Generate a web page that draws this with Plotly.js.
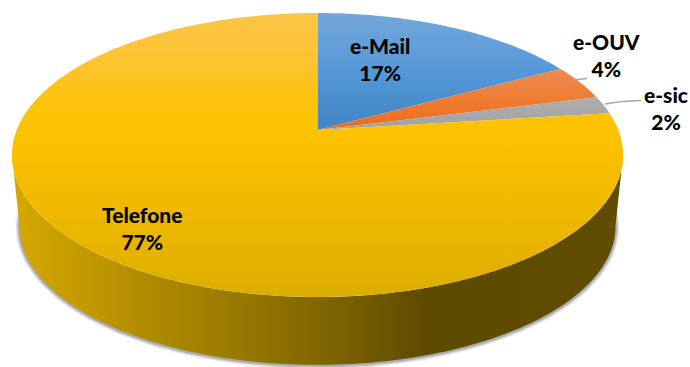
<!DOCTYPE html>
<html>
<head>
<meta charset="utf-8">
<script src="https://cdn.plot.ly/plotly-3.0.1.min.js"></script>
<style>html,body{margin:0;padding:0;background:#fff;overflow:hidden}#chart{width:690px;height:367px}</style>
</head>
<body>
<div id="chart"></div>
<script>
// Contact channel shares, in percent
const categories = ['e-Mail', 'e-OUV', 'e-sic', 'Telefone'];
const shares = [17, 4, 2, 77];

// Vertical gradient of each slice's top face: [colour stops, first y, last y]
const sliceGradients = [
  [[[0, '#74a7da'], [0.5, '#5598d8'], [1, '#4084c4']], 13, 130],
  [[[0, '#ee8c58'], [0.6, '#ef7a2c'], [1, '#e86c1c']], 66, 130],
  [[[0, '#aeaeae'], [1, '#a2a2a2']], 96, 130],
  [[[0, '#fbc546'], [0.14, '#fcc436'], [0.3, '#fcc30f'], [0.42, '#fdc200'], [0.7, '#efb900'], [1, '#dcae00']], 13, 297]
];

// Horizontal shading of the rim, left to right
const wallStops = [[0, '#d6a900'], [0.18, '#b89100'], [0.36, '#9a7a00'], [0.54, '#7a6100'], [0.68, '#5e4a00'], [1, '#614d00']];

// Perspective disc: depth pulls the far edge in
const cx = 317.5, cy = 130, radiusX = 300.8, radiusY = 137.6, tilt = 0.176;
function project(deg, scale, drop) {
  const t = deg * Math.PI / 180;
  const d = 1 + tilt * Math.cos(t);
  return [cx + scale * radiusX * Math.sin(t) / d, cy + drop - scale * radiusY * Math.cos(t) / d];
}
function arc(from, to, scale, drop) {
  const n = Math.max(2, Math.ceil(Math.abs(to - from)));
  const pts = [];
  for (let i = 0; i <= n; i++) pts.push(project(from + (to - from) * i / n, scale, drop));
  return pts;
}
const xs = p => p.map(q => q[0]);
const ys = p => p.map(q => q[1]);

const rimScale = 0.975, rimDrop = 72;
const edge = Math.acos(-tilt) * 180 / Math.PI;
const traces = [];

// Soft drop shadow under the rim
const shadowArc = arc(edge - 12, 360 - edge + 12, rimScale, rimDrop + 0.5);
[[9, 0.07], [7, 0.10], [5, 0.14], [3, 0.22]].forEach(([w, o]) => traces.push({
  x: xs(shadowArc), y: ys(shadowArc), mode: 'lines',
  line: {color: '#404040', width: w}, opacity: o, hoverinfo: 'skip'
}));

// Rim of the disc
const wall = arc(edge, 360 - edge, 1, 0).concat(arc(360 - edge, edge, rimScale, rimDrop));
traces.push({
  x: xs(wall), y: ys(wall), mode: 'none', fill: 'toself', hoverinfo: 'skip',
  fillgradient: {type: 'horizontal', colorscale: wallStops, start: 12, stop: 623}
});

// Top face, one wedge per category, clockwise from twelve o'clock
const total = shares.reduce((a, b) => a + b, 0);
let running = 0;
categories.forEach((name, i) => {
  const from = running / total * 360;
  running += shares[i];
  const to = running / total * 360;
  const outline = [[cx, cy]].concat(arc(from, to, 1, 0), [[cx, cy]]);
  const [stops, top, bottom] = sliceGradients[i];
  traces.push({
    x: xs(outline), y: ys(outline), mode: 'none', fill: 'toself', name,
    fillgradient: {type: 'vertical', colorscale: stops, start: top, stop: bottom},
    hoverinfo: 'name'
  });
});

// Slice captions
const labelAnchors = [[380, 59], [606, 55], [666, 108], [142, 228]];
const annotations = categories.map((name, i) => ({
  x: labelAnchors[i][0], y: labelAnchors[i][1], xref: 'x', yref: 'y', showarrow: false,
  text: name + '<br>' + shares[i] + '%', align: 'center',
  font: {family: 'Lato, "Open Sans", sans-serif', size: 21, color: '#050505', weight: 900}
}));

// Leader lines to the two narrow slices
const shapes = [
  {type: 'path', path: 'M573,80 L587,78.5', line: {color: '#a6a6a6', width: 1.5}},
  {type: 'path', path: 'M605,104 Q620,101 641,100.5', line: {color: '#a6a6a6', width: 1.5}}
];

Plotly.newPlot('chart', traces, {
  width: 690, height: 367, showlegend: false,
  margin: {l: 0, r: 0, t: 0, b: 0},
  paper_bgcolor: '#fff', plot_bgcolor: '#fff',
  xaxis: {range: [0, 690], visible: false, fixedrange: true},
  yaxis: {range: [367, 0], visible: false, fixedrange: true},
  annotations, shapes
}, {displayModeBar: false, staticPlot: true});
</script>
</body>
</html>
